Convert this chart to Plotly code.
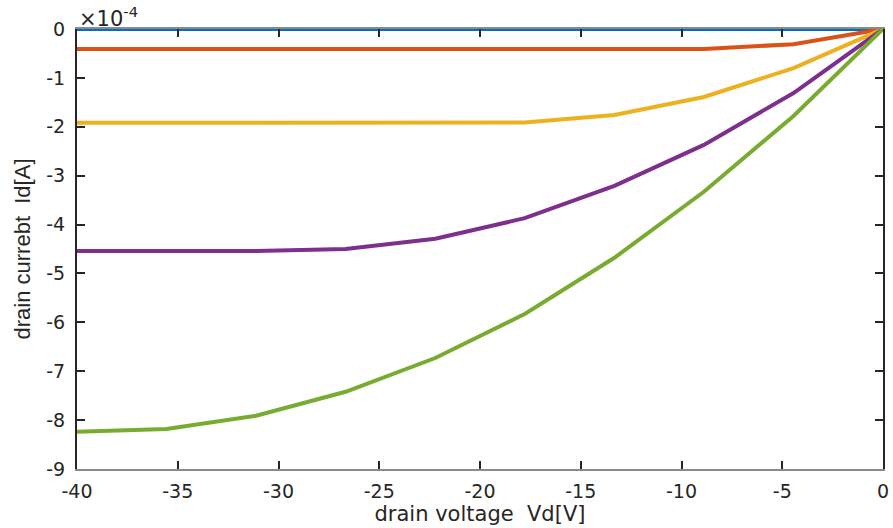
import plotly.graph_objects as go

# drain voltage (V)
vd = [-40.0, -35.56, -31.11, -26.67, -22.22, -17.78, -13.33, -8.89, -4.44, 0.0]
# drain current in units of 1e-4 A
id_blue = [0, 0, 0, 0, 0, 0, 0, 0, 0, 0]
id_orange = [-0.41, -0.41, -0.41, -0.41, -0.41, -0.41, -0.41, -0.41, -0.31, 0]
id_yellow = [-1.92, -1.92, -1.92, -1.92, -1.92, -1.91, -1.76, -1.39, -0.80, 0]
id_purple = [-4.54, -4.54, -4.54, -4.50, -4.29, -3.87, -3.21, -2.37, -1.31, 0]
id_green = [-8.24, -8.18, -7.91, -7.42, -6.73, -5.83, -4.68, -3.33, -1.78, 0]

x_ticks = [-40, -35, -30, -25, -20, -15, -10, -5, 0]
x_tick_text = ["-40", "-35", "-30", "-25", "-20", "-15", "-10", "-5", "0"]
y_ticks = [0, -1, -2, -3, -4, -5, -6, -7, -8, -9]
y_tick_text = ["0", "-1", "-2", "-3", "-4", "-5", "-6", "-7", "-8", "-9"]

series = [
    (id_blue, "#0072BD"),
    (id_orange, "#D95319"),
    (id_yellow, "#EDB120"),
    (id_purple, "#7E2F8E"),
    (id_green, "#77AC30"),
]

fig = go.Figure()
for vals, col in series:
    fig.add_trace(go.Scatter(x=vd, y=vals, mode="lines",
                             line=dict(color=col, width=4), showlegend=False,
                             cliponaxis=False))

wide = "DejaVu Sans"
narrow = "Liberation Sans"
fig.update_layout(
    width=893, height=528,
    margin=dict(l=77, r=4, t=29, b=59),
    paper_bgcolor="white", plot_bgcolor="white",
    font=dict(family=wide, size=19, color="#262626"),
    xaxis=dict(range=[-40, 0], tickvals=x_ticks, ticktext=x_tick_text,
               ticks="inside", ticklen=8, tickwidth=2, tickcolor="#262626",
               showline=True, linecolor="#8a8a8a", linewidth=2, mirror="ticks",
               showgrid=False, zeroline=False, ticklabelstandoff=4,
               ticklabeloverflow="allow",
               tickfont=dict(family=wide, size=19, color="#262626"),
               title=dict(text="drain voltage  Vd[V]",
                          font=dict(family=wide, size=21, color="#262626"), standoff=1)),
    yaxis=dict(range=[-9, 0], tickvals=y_ticks, ticktext=y_tick_text,
               ticks="inside", ticklen=8, tickwidth=2, tickcolor="#262626",
               showline=True, linecolor="#262626", linewidth=2, mirror="ticks",
               showgrid=False, zeroline=False, ticklabelstandoff=6,
               tickfont=dict(family=wide, size=19, color="#262626"),
               title=dict(text="drain currebt  Id[A]",
                          font=dict(family=narrow, size=22, color="#262626"), standoff=10)),
)
fig.add_annotation(xref="paper", yref="paper", x=0.0, y=1.0, xanchor="left", yanchor="bottom",
                   text="×10<sup>-4</sup>", showarrow=False, xshift=0, yshift=-4,
                   font=dict(family=wide, size=21, color="#262626"))
fig.write_html("out.html")
